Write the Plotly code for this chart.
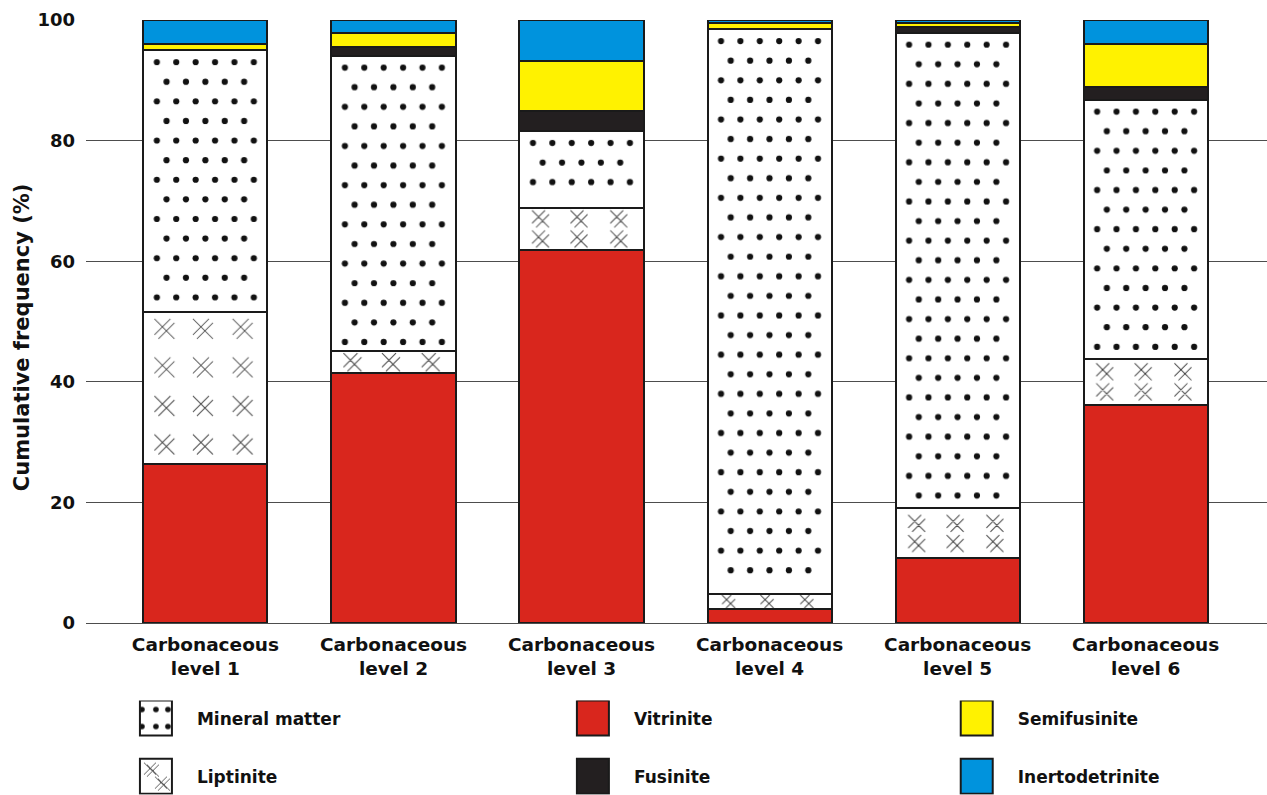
import plotly.graph_objects as go

# Petrographic composition of each carbonaceous level (cumulative %, stacked bottom -> top)
levels = ["Carbonaceous<br>level 1", "Carbonaceous<br>level 2", "Carbonaceous<br>level 3",
          "Carbonaceous<br>level 4", "Carbonaceous<br>level 5", "Carbonaceous<br>level 6"]

vitrinite = [26.4, 41.4, 61.8, 2.3, 10.7, 36.2]
liptinite = [25.2, 3.7, 7.1, 2.5, 8.3, 7.6]
mineral_matter = [43.4, 49.0, 12.7, 93.7, 78.9, 43.0]
fusinite = [0.0, 1.5, 3.3, 0.0, 0.9, 2.1]
semifusinite = [1.0, 2.3, 8.3, 1.0, 0.7, 7.1]
inertodetrinite = [4.0, 2.1, 6.8, 0.5, 0.5, 4.0]

y_ticks = [0, 20, 40, 60, 80, 100]

FONT = "DejaVu Sans, Verdana, sans-serif"
EDGE = dict(color="#1a1a1a", width=2)

# name, values, colour, pattern, uid, legend, rank
components = [
    ("Vitrinite", vitrinite, "#d9261d", None, "vitrinite", "legend2", 1),
    ("Liptinite", liptinite, "white", "x", "liptinite", "legend", 2),
    ("Mineral matter", mineral_matter, "white", ".", "mineral", "legend", 1),
    ("Fusinite", fusinite, "#231f20", None, "fusinite", "legend2", 2),
    ("Semifusinite", semifusinite, "#fff200", None, "semifusinite", "legend3", 1),
    ("Inertodetrinite", inertodetrinite, "#0093dd", None, "inertodetrinite", "legend3", 2),
]

fig = go.Figure()
for name, vals, color, shape, uid, leg, rank in components:
    marker = dict(color=color, line=EDGE)
    if shape == ".":
        marker["pattern"] = dict(shape=".", size=19, solidity=0.08,
                                 fgcolor="#111111", bgcolor="white", fillmode="replace")
    elif shape == "x":
        marker["pattern"] = dict(shape="x", size=38, solidity=0.03,
                                 fgcolor="#555555", bgcolor="white", fillmode="replace")
    fig.add_trace(go.Bar(
        x=levels, y=vals, name=name, uid=uid, marker=marker,
        legend=leg, legendrank=rank, legendgroup=uid,
        hoverinfo="name+y",
    ))

legend_common = dict(
    orientation="v", yanchor="top", xanchor="left",
    font=dict(family=FONT, size=17, color="#111111", weight="bold"),
    itemwidth=72, tracegroupgap=33, bgcolor="rgba(0,0,0,0)",
    itemclick=False, itemdoubleclick=False,
)

fig.update_layout(
    width=1267, height=795,
    margin=dict(l=86, r=0, t=20, b=170),
    paper_bgcolor="white", plot_bgcolor="white",
    barmode="stack", bargap=0.34,
    font=dict(family=FONT, size=18, color="#111111", weight="bold"),
    xaxis=dict(
        range=[-0.635, 5.645], showgrid=False, showline=False, zeroline=False,
        ticks="", ticklabelstandoff=8,
        tickfont=dict(family=FONT, size=18.5, weight="bold"),
    ),
    yaxis=dict(
        range=[0, 100], tickvals=y_ticks, showgrid=True, gridcolor="#4d4d4d",
        gridwidth=1, zeroline=True, zerolinecolor="#4d4d4d", zerolinewidth=1,
        showline=False, ticks="", ticklabelstandoff=10,
        tickfont=dict(family=FONT, size=18, weight="bold"),
    ),
    annotations=[dict(
        text="Cumulative frequency (%)", textangle=-90, showarrow=False,
        xref="paper", yref="paper", x=-0.0542, y=0.474,
        xanchor="center", yanchor="middle",
        font=dict(family=FONT, size=21, weight="bold", color="#111111"),
    )],
    legend=dict(x=0.0245, y=-0.1285, **legend_common),
    legend2=dict(x=0.3945, y=-0.1285, **legend_common),
    legend3=dict(x=0.7195, y=-0.1285, **legend_common),
)

# Petrographic textures drawn per bar segment: staggered dots for mineral matter,
# paired crosses for liptinite; legend swatches enlarged into outlined boxes.
post_js = r"""
(function(){
  var gd = document.getElementById('{plot_id}');
  var NS = 'http://www.w3.org/2000/svg';
  var defs = gd.querySelector('svg.main-svg defs');
  function mk(tag, attrs){
    var e = document.createElementNS(NS, tag);
    for (var k in attrs) e.setAttribute(k, attrs[k]);
    return e;
  }
  function cross(cx, cy, h){
    return 'M' + (cx-h) + ',' + (cy-h) + 'L' + (cx+h) + ',' + (cy+h) +
           'M' + (cx-h) + ',' + (cy+h) + 'L' + (cx+h) + ',' + (cy-h);
  }
  function dblcross(cx, cy, h){
    return cross(cx - 2, cy - 2, h) + cross(cx + 2, cy + 2, h);
  }
  function newPattern(id, b){
    var old = document.getElementById(id);
    if (old) old.parentNode.removeChild(old);
    var p = mk('pattern', {id: id, patternUnits: 'userSpaceOnUse',
                           x: b.x, y: b.y, width: b.width, height: b.height});
    p.appendChild(mk('rect', {width: b.width, height: b.height, fill: '#ffffff'}));
    defs.appendChild(p);
    return p;
  }
  function dots(p, b){
    var dx = b.width / 6.4, dy = 19.6, r = 3.1;
    var row = 0;
    for (var y = 12; y <= b.height - 9; y += dy, row++) {
      var n = (row % 2 === 0) ? 6 : 5;
      var x0 = 13.5 + ((row % 2 === 0) ? 0 : dx / 2);
      for (var i = 0; i < n; i++)
        p.appendChild(mk('circle', {cx: x0 + i * dx, cy: y, r: r, fill: '#111111'}));
    }
  }
  function crosses(p, b){
    var ys = [], h;
    if (b.height > 90) {
      h = 8;
      for (var y = 17; y <= b.height - 12; y += 38.5) ys.push(y);
    } else if (b.height > 36) {
      h = 6.5; ys = [b.height / 2 - 10, b.height / 2 + 10];
    } else {
      h = Math.max(3.5, Math.min(7, b.height / 2 - 3)); ys = [b.height / 2];
    }
    var xs = [0.17, 0.48, 0.80];
    var d = '';
    ys.forEach(function(y){ xs.forEach(function(f){ d += dblcross(f * b.width, y, h); }); });
    p.appendChild(mk('path', {d: d, stroke: '#484848', 'stroke-width': 1, fill: 'none'}));
  }
  // bar segments
  gd.querySelectorAll('.barlayer .trace').forEach(function(tg){
    var cd = tg.__data__;
    var uid = cd && cd[0] && cd[0].trace ? cd[0].trace.uid : '';
    if (uid !== 'mineral' && uid !== 'liptinite') return;
    tg.querySelectorAll('.point path').forEach(function(path, i){
      var b = path.getBBox();
      if (b.height < 1) return;
      var id = 'tex-' + uid + '-' + i;
      var p = newPattern(id, b);
      if (uid === 'mineral') dots(p, b); else crosses(p, b);
      path.style.fill = 'url(#' + id + ')';
    });
  });
  // legend swatches
  gd.querySelectorAll('.legendpoints path').forEach(function(path, k){
    path.setAttribute('d', 'M-16,-17.5H16V17.5H-16Z');
    path.style.stroke = '#1a1a1a';
    path.style.strokeWidth = '2px';
    var item = path.closest('.traces');
    var cd = item ? item.__data__ : null;
    var uid = cd && cd[0] && cd[0].trace ? cd[0].trace.uid : '';
    if (uid !== 'mineral' && uid !== 'liptinite') return;
    var b = path.getBBox();
    var id = 'lg-' + uid;
    var p = newPattern(id, b);
    if (uid === 'mineral') {
      [[2, 9], [16, 9], [28, 9], [2, 26], [16, 26], [28, 26]].forEach(function(c){
        p.appendChild(mk('circle', {cx: c[0], cy: c[1], r: 2.8, fill: '#111111'}));
      });
    } else {
      var d = cross(10, 10, 6) + cross(13, 12, 6) + cross(21, 24, 6) + cross(24, 26, 6);
      p.appendChild(mk('path', {d: d, stroke: '#484848', 'stroke-width': 0.9, fill: 'none'}));
    }
    path.style.fill = 'url(#' + id + ')';
  });
})();
"""

fig.write_html("out.html", post_script=post_js)
